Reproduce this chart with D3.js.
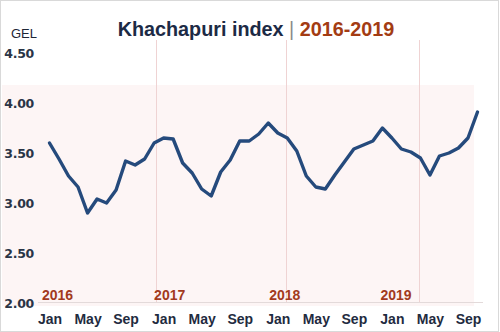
<!DOCTYPE html>
<html>
<head>
<meta charset="utf-8">
<script src="https://cdn.jsdelivr.net/npm/d3@7/dist/d3.min.js"></script>
<style>
  html, body { margin: 0; padding: 0; background: #fff; }
  svg { display: block; font-family: "Liberation Sans", Arial, sans-serif; }
</style>
</head>
<body>
<svg id="chart" width="500" height="332"></svg>
<script>
// Monthly Khachapuri index, GEL, Jan 2016 – Oct 2019
const months = ["Jan","Feb","Mar","Apr","May","Jun","Jul","Aug","Sep","Oct","Nov","Dec"];
const values = [
  3.59, 3.43, 3.26, 3.15, 2.89, 3.03, 2.99, 3.12, 3.41, 3.37, 3.43, 3.59,
  3.64, 3.63, 3.39, 3.29, 3.13, 3.06, 3.30, 3.42, 3.61, 3.61, 3.68, 3.79,
  3.69, 3.64, 3.51, 3.26, 3.15, 3.13, 3.27, 3.40, 3.53, 3.57, 3.61, 3.74,
  3.64, 3.53, 3.50, 3.44, 3.27, 3.46, 3.49, 3.54, 3.64, 3.90
];
const yTicks = [2.0, 2.5, 3.0, 3.5, 4.0, 4.5];
const xTickIdx = [0, 4, 8, 12, 16, 20, 24, 28, 32, 36, 40, 44];
const years = ["2016", "2017", "2018", "2019"];
// year label anchor (month index) and separator positions (month index)
const yearLabelAt = [-0.8, 11.0, 23.1, 34.8];
const separatorsAt = [11.2, 24.9, 38.8];

const svg = d3.select("#chart");
const x = d3.scaleLinear().domain([0, 45]).range([49.5, 477.5]);
const y = d3.scaleLinear().domain([2, 4.5]).range([302, 52]);

// outer frame
svg.append("rect").attr("x", 0.5).attr("y", 0.5).attr("width", 498).attr("height", 331)
  .attr("fill", "#fff").attr("stroke", "#d9d9d9");

// shaded plot band
const bandTop = 85;
svg.append("rect").attr("x", 2).attr("y", bandTop)
  .attr("width", 472).attr("height", y(2) + 4 - bandTop)
  .attr("fill", "#fdf5f5");

// year separators
svg.selectAll("line.sep").data(separatorsAt).join("line")
  .attr("class", "sep")
  .attr("x1", d => Math.round(x(d)) + 0.5).attr("x2", d => Math.round(x(d)) + 0.5)
  .attr("y1", 40).attr("y2", y(2))
  .attr("stroke", "#efd3d3").attr("stroke-width", 1);

// baseline
svg.append("line").attr("x1", 38).attr("x2", 483)
  .attr("y1", y(2) + 0.5).attr("y2", y(2) + 0.5)
  .attr("stroke", "#e3dada");

// y axis labels
const yAxis = d3.axisLeft(y).tickValues(yTicks).tickFormat(d3.format(".2f")).tickSize(0).tickPadding(0);
const gy = svg.append("g").attr("transform", "translate(34,0)").call(yAxis);
gy.select(".domain").remove();
gy.selectAll("text").attr("font-size", 12.5).attr("font-weight", "bold")
  .attr("fill", "#2a3446").attr("font-family", "'DejaVu Sans', sans-serif")
  .attr("dy", "0.4em").style("letter-spacing", "-0.3px");

svg.append("text").attr("x", 11).attr("y", 38).text("GEL")
  .attr("font-size", 13).attr("fill", "#1d2636");

// x axis labels
const xAxis = d3.axisBottom(x).tickValues(xTickIdx).tickFormat(i => months[i % 12]).tickSize(0).tickPadding(0);
const gx = svg.append("g").attr("transform", "translate(0,314)").call(xAxis);
gx.select(".domain").remove();
gx.selectAll("text").attr("font-size", 14).attr("font-weight", "bold").attr("fill", "#1f2b40")
  .attr("dy", "0.71em");

// year labels
svg.selectAll("text.year").data(years).join("text")
  .attr("class", "year")
  .attr("x", (d, i) => x(yearLabelAt[i]))
  .attr("y", 300)
  .attr("font-size", 14).attr("font-weight", "bold").attr("fill", "#a23a1d")
  .text(d => d);

// index line
const line = d3.line().x((d, i) => x(i)).y(d => y(d));
svg.append("path").datum(values).attr("d", line)
  .attr("fill", "none").attr("stroke", "#254a7c").attr("stroke-width", 3.4)
  .attr("stroke-linejoin", "round").attr("stroke-linecap", "round");

// title
const title = svg.append("text").attr("x", 256).attr("y", 36).attr("text-anchor", "middle")
  .attr("font-size", 19.8).attr("font-weight", "bold");
title.append("tspan").attr("fill", "#1c2a45").text("Khachapuri index ");
title.append("tspan").attr("fill", "#8a8a8a").attr("font-weight", "normal").text("|");
title.append("tspan").attr("fill", "#a33c13").text(" 2016-2019");
</script>
</body>
</html>
